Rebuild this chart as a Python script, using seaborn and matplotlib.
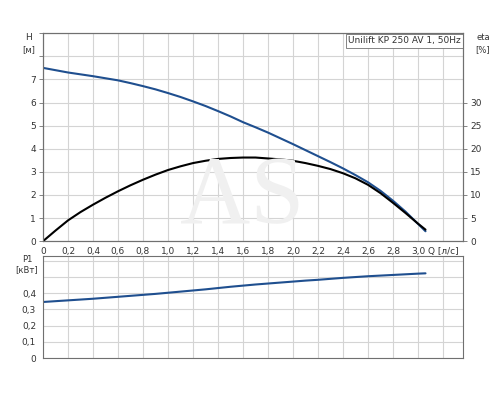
"""
Pump curve chart: Unilift KP 250 AV 1, 50Hz
H, eta and P1 against flow Q.
"""

import pandas as pd
import numpy as np
import seaborn as sns
import matplotlib.pyplot as plt

q = [0.0, 0.1, 0.2, 0.3, 0.4, 0.5, 0.6, 0.7, 0.8, 0.9, 1.0, 1.1, 1.2, 1.3, 1.4, 1.5,
     1.6, 1.7, 1.8, 1.9, 2.0, 2.1, 2.2, 2.3, 2.4, 2.5, 2.6, 2.7, 2.8, 2.9, 3.0, 3.06]
head = [7.5, 7.4, 7.3, 7.22, 7.14, 7.05, 6.96, 6.84, 6.71, 6.57, 6.41, 6.24, 6.05, 5.85,
        5.63, 5.4, 5.15, 4.93, 4.7, 4.45, 4.2, 3.94, 3.68, 3.42, 3.15, 2.86, 2.55, 2.18,
        1.75, 1.28, 0.75, 0.43]
eta = [0.0, 2.3, 4.5, 6.3, 7.9, 9.4, 10.8, 12.1, 13.3, 14.4, 15.4, 16.2, 16.9, 17.4,
       17.8, 18.0, 18.1, 18.1, 17.9, 17.7, 17.4, 16.9, 16.3, 15.6, 14.7, 13.6, 12.2, 10.4,
       8.3, 6.1, 3.8, 2.5]
p1 = [0.346, 0.351, 0.356, 0.361, 0.366, 0.372, 0.378, 0.384, 0.39, 0.396, 0.403, 0.41,
      0.417, 0.424, 0.432, 0.44, 0.447, 0.454, 0.46, 0.466, 0.472, 0.478, 0.483, 0.489,
      0.495, 0.5, 0.505, 0.509, 0.513, 0.517, 0.521, 0.523]

x_ticks = [0.0, 0.2, 0.4, 0.6, 0.8, 1.0, 1.2, 1.4, 1.6, 1.8, 2.0, 2.2, 2.4, 2.6, 2.8, 3.0, 3.2]
x_labels = ["0", "0,2", "0,4", "0,6", "0,8", "1,0", "1,2", "1,4", "1,6", "1,8",
            "2,0", "2,2", "2,4", "2,6", "2,8", "3,0", "Q [л/с]"]
h_ticks = [0, 1, 2, 3, 4, 5, 6, 7, 8, 9]
h_labels = ["0", "1", "2", "3", "4", "5", "6", "7", "", ""]
eta_ticks = [0, 5, 10, 15, 20, 25, 30]
p_ticks = [0.0, 0.1, 0.2, 0.3, 0.4, 0.5, 0.6]
p_labels = ["0", "0,1", "0,2", "0,3", "0,4", "", ""]

title = "Unilift KP 250 AV 1, 50Hz"

df = pd.DataFrame({"Q": q, "H": head, "eta": eta, "P1": p1})

sns.set_style("whitegrid", {"grid.color": "#d4d4d4", "axes.edgecolor": "#707070"})
plt.rcParams["font.family"] = ["DejaVu Sans"]

BLUE = "#1f4f8f"
TXT = "#333333"

fig = plt.figure(figsize=(5, 4), dpi=100)
ax = fig.add_axes([0.086, 0.397, 0.84, 0.52])
axr = ax.twinx()
axp = fig.add_axes([0.086, 0.105, 0.84, 0.255])

# Top: head + efficiency
sns.lineplot(data=df, x="Q", y="H", ax=ax, color=BLUE, linewidth=1.5)
sns.lineplot(data=df, x="Q", y="eta", ax=axr, color="black", linewidth=1.5)

ax.set_xlim(0, 3.36)
ax.set_ylim(0, 9)
axr.set_ylim(0, 45)
ax.set_xticks(x_ticks)
ax.set_xticklabels(x_labels)
ax.set_yticks(h_ticks)
ax.set_yticklabels(h_labels)
axr.set_yticks(eta_ticks)
axr.grid(False)
ax.set_xlabel("")
ax.set_ylabel("")
axr.set_ylabel("")

# Bottom: power
sns.lineplot(data=df, x="Q", y="P1", ax=axp, color=BLUE, linewidth=1.5)
axp.set_xlim(0, 3.36)
axp.set_ylim(0, 0.63)
axp.set_xticks(x_ticks)
axp.set_xticklabels([])
axp.set_yticks(p_ticks)
axp.set_yticklabels(p_labels)
axp.set_xlabel("")
axp.set_ylabel("")

for a in (ax, axr, axp):
    a.tick_params(labelsize=6.5, colors=TXT, length=3, width=0.6, pad=2,
                  color="#707070")
    for s in a.spines.values():
        s.set_linewidth(0.8)
        s.set_color("#707070")
ax.tick_params(axis="x", length=2)
axp.tick_params(axis="x", length=0)

# Axis unit labels
fig.text(0.057, 0.907, "H", fontsize=6.5, color=TXT, ha="center", va="center")
fig.text(0.057, 0.877, "[м]", fontsize=6, color=TXT, ha="center", va="center")
fig.text(0.966, 0.907, "eta", fontsize=6, color=TXT, ha="center", va="center")
fig.text(0.966, 0.877, "[%]", fontsize=6, color=TXT, ha="center", va="center")
fig.text(0.054, 0.35, "P1", fontsize=6, color=TXT, ha="center", va="center")
fig.text(0.054, 0.327, "[кВт]", fontsize=6, color=TXT, ha="center", va="center")

# Model box
ax.text(0.995, 0.985, title, transform=ax.transAxes, ha="right", va="top",
        fontsize=6.5, color=TXT,
        bbox=dict(boxstyle="square,pad=0.25", fc="white", ec="#707070", lw=0.6))

# Watermark
fig.text(0.485, 0.5, "AS", fontsize=70, family="Liberation Serif",
         color="#f0f0f0", ha="center", va="center", zorder=0)

fig.savefig("out.png", dpi=100)
